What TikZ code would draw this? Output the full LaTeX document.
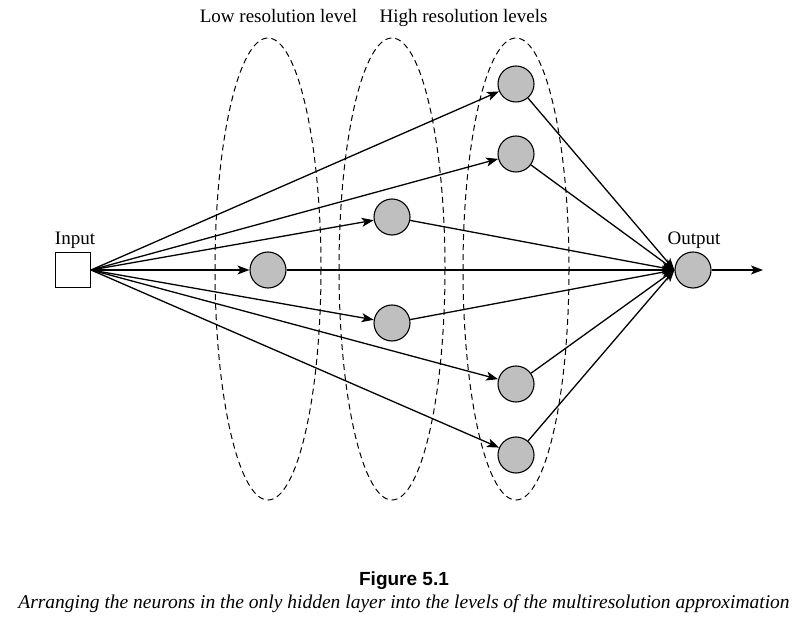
\documentclass[tikz,border=0pt]{standalone}
\usepackage{fontspec}
\setmainfont{Liberation Serif}
\newfontfamily\capsans{Liberation Sans}
\usetikzlibrary{arrows.meta}
\begin{document}
\begin{tikzpicture}[x=1pt,y=-1pt,
  neuron/.style={circle,draw,line width=1.1pt,fill=black!25,minimum size=36pt,inner sep=0pt},
  inbox/.style={rectangle,draw,line width=1.1pt,fill=white,minimum size=35pt,inner sep=0pt},
  conn/.style={line width=1.3pt,-{Stealth[length=12pt,width=9pt,inset=3pt]}},
  level/.style={draw,line width=1pt,dash pattern=on 6pt off 4pt},
  lbl/.style={font=\fontsize{19}{22}\selectfont,inner sep=0pt,anchor=base}]
\useasboundingbox (0,0) rectangle (808,617);
% level ellipses
\draw[level] (268,269) ellipse [x radius=53, y radius=231];
\draw[level] (392,269) ellipse [x radius=53, y radius=231];
\draw[level] (516,269) ellipse [x radius=53, y radius=231];
% nodes
\node[inbox] (in) at (73,270) {};
\node[neuron] (h0) at (268,270) {};
\node[neuron] (h1) at (392,217) {};
\node[neuron] (h2) at (392,323) {};
\node[neuron] (h3) at (516,84) {};
\node[neuron] (h4) at (516,154) {};
\node[neuron] (h5) at (516,384) {};
\node[neuron] (h6) at (516,455) {};
\node[neuron] (out) at (693,270) {};
\coordinate (end) at (763,270);
% labels
\node[lbl] (lowlbl) at (278.5,23) {Low resolution level};
\node[lbl] (highlbl) at (463.5,23) {High resolution levels};
\node[lbl] (inlbl) at (75,245) {Input};
\node[lbl] (outlbl) at (694,245) {Output};
% connectors
\foreach \h in {h0,h1,h2,h3,h4,h5,h6}{
  \draw[conn] (in.east) -- (\h);
  \draw[conn] (\h) -- (out.west);
}
\draw[conn] (out) -- (end);
% caption
\node[inner sep=0pt,anchor=base,font=\capsans\bfseries\fontsize{19}{22}\selectfont] (figno) at (404,585) {Figure 5.1};
\node[inner sep=0pt,anchor=base,font=\itshape\fontsize{19.5}{22}\selectfont] (cap) at (404,608) {Arranging the neurons in the only hidden layer into the levels of the multiresolution approximation};
\end{tikzpicture}
\end{document}
